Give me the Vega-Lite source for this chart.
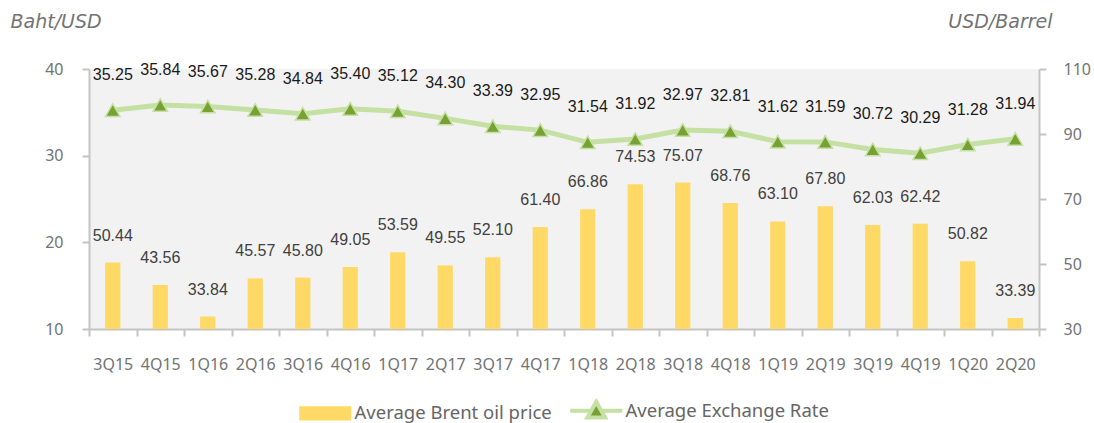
{
  "$schema": "https://vega.github.io/schema/vega-lite/v6.json",
  "width": 950,
  "height": 260,
  "autosize": {"type": "none"},
  "padding": {"left": 89, "top": 69, "right": 55, "bottom": 94},
  "background": "white",
  "config": {
    "view": {"fill": "#f2f2f2", "stroke": null},
    "axis": {
      "grid": false,
      "domainColor": "#c4c4c4",
      "domainWidth": 2,
      "tickColor": "#c4c4c4",
      "tickWidth": 2,
      "tickSize": 7,
      "labelFont": "Noto Sans",
      "labelFontSize": 16,
      "labelColor": "#737373",
      "titleFont": "DejaVu Sans",
      "titleFontSize": 19,
      "titleColor": "#737373",
      "titleFontStyle": "italic",
      "titleFontWeight": "normal"
    }
  },
  "data": {
    "values": [
      {"quarter": "3Q15", "oil": 50.44, "fx": 35.25},
      {"quarter": "4Q15", "oil": 43.56, "fx": 35.84},
      {"quarter": "1Q16", "oil": 33.84, "fx": 35.67},
      {"quarter": "2Q16", "oil": 45.57, "fx": 35.28},
      {"quarter": "3Q16", "oil": 45.80, "fx": 34.84},
      {"quarter": "4Q16", "oil": 49.05, "fx": 35.40},
      {"quarter": "1Q17", "oil": 53.59, "fx": 35.12},
      {"quarter": "2Q17", "oil": 49.55, "fx": 34.30},
      {"quarter": "3Q17", "oil": 52.10, "fx": 33.39},
      {"quarter": "4Q17", "oil": 61.40, "fx": 32.95},
      {"quarter": "1Q18", "oil": 66.86, "fx": 31.54},
      {"quarter": "2Q18", "oil": 74.53, "fx": 31.92},
      {"quarter": "3Q18", "oil": 75.07, "fx": 32.97},
      {"quarter": "4Q18", "oil": 68.76, "fx": 32.81},
      {"quarter": "1Q19", "oil": 63.10, "fx": 31.62},
      {"quarter": "2Q19", "oil": 67.80, "fx": 31.59},
      {"quarter": "3Q19", "oil": 62.03, "fx": 30.72},
      {"quarter": "4Q19", "oil": 62.42, "fx": 30.29},
      {"quarter": "1Q20", "oil": 50.82, "fx": 31.28},
      {"quarter": "2Q20", "oil": 33.39, "fx": 31.94}
    ]
  },
  "encoding": {
    "x": {
      "field": "quarter",
      "type": "nominal",
      "sort": null,
      "scale": {"paddingInner": 0, "paddingOuter": 0},
      "axis": {
        "title": null,
        "labelAngle": 0,
        "tickBand": "extent",
        "labelPadding": 20,
        "labelFontSize": 16
      }
    }
  },
  "layer": [
    {
      "encoding": {
        "y": {
          "field": "oil",
          "type": "quantitative",
          "scale": {"domain": [30, 110], "nice": false, "zero": false},
          "axis": {
            "orient": "right",
            "values": [30, 50, 70, 90, 110],
            "labelPadding": 17,
            "title": "USD/Barrel",
            "titleAngle": 0,
            "titleX": 13,
            "titleY": -42,
            "titleAlign": "right",
            "titleBaseline": "alphabetic"
          }
        }
      },
      "layer": [
        {
          "mark": {"type": "bar", "width": {"band": 0.32}, "color": "#ffd966"},
          "encoding": {
            "y2": {"datum": 30},
            "color": {
              "datum": "Average Brent oil price",
              "scale": {
                "domain": ["Average Brent oil price", "Average Exchange Rate"],
                "range": ["#ffd966", "#77a132"]
              },
              "legend": {
                "title": null,
                "orient": "none",
                "direction": "horizontal",
                "legendX": 227,
                "legendY": 332,
                "symbolSize": 2704,
                "labelFont": "Noto Sans",
                "labelFontSize": 18.5,
                "labelColor": "#666666",
                "labelLimit": 400,
                "labelOffset": 20,
                "columnPadding": 10,
                "encode": {
                  "symbols": {
                    "update": {
                      "shape": {"signal": "datum.value === 'Average Brent oil price' ? 'M-1,-0.27H1V0.27H-1Z' : 'M-1,0H-0.24M0.24,0H1M-0.34,0.26L0,-0.34L0.34,0.26Z'"},
                      "fill": {"signal": "datum.value === 'Average Brent oil price' ? '#ffd966' : '#77a132'"},
                      "stroke": {"signal": "datum.value === 'Average Brent oil price' ? 'transparent' : '#c5e0a3'"},
                      "strokeWidth": {"signal": "datum.value === 'Average Brent oil price' ? 0 : 4"},
                      "opacity": {"value": 1},
                      "fillOpacity": {"value": 1}
                    }
                  }
                }
              }
            }
          }
        },
        {
          "mark": {
            "type": "text",
            "dy": -27,
            "font": "Liberation Sans",
            "fontSize": 16,
            "color": "#404040"
          },
          "encoding": {
            "text": {"field": "oil", "type": "quantitative", "format": ".2f"}
          }
        }
      ]
    },
    {
      "encoding": {
        "y": {
          "field": "fx",
          "type": "quantitative",
          "scale": {"domain": [10, 40], "nice": false, "zero": false},
          "axis": {
            "orient": "left",
            "values": [10, 20, 30, 40],
            "labelPadding": 19,
            "title": "Baht/USD",
            "titleAngle": 0,
            "titleX": -79,
            "titleY": -42,
            "titleAlign": "left",
            "titleBaseline": "alphabetic"
          }
        }
      },
      "layer": [
        {
          "mark": {"type": "line", "strokeWidth": 5, "color": "#c5e0a3"}
        },
        {
          "mark": {
            "type": "point",
            "shape": "triangle-up",
            "filled": true,
            "size": 210,
            "stroke": "#c5e0a3",
            "strokeWidth": 1.5,
            "opacity": 1
          },
          "encoding": {
            "color": {"datum": "Average Exchange Rate"}
          }
        },
        {
          "mark": {
            "type": "text",
            "dy": -35,
            "font": "Liberation Sans",
            "fontSize": 16,
            "color": "#1a1a1a"
          },
          "encoding": {
            "text": {"field": "fx", "type": "quantitative", "format": ".2f"}
          }
        }
      ]
    }
  ],
  "resolve": {"scale": {"y": "independent"}}
}
